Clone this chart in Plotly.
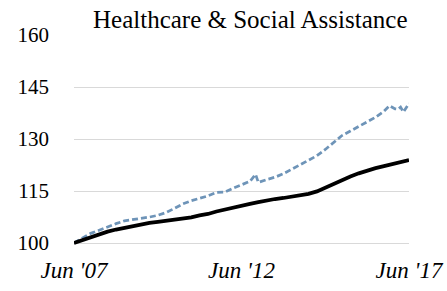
import plotly.graph_objects as go

# Solid black series (quarterly readings)
black_dates = [
    "2007-06-01", "2007-09-01", "2007-12-01", "2008-03-01", "2008-06-01", "2008-09-01", "2008-12-01",
    "2009-03-01", "2009-06-01", "2009-09-01", "2009-12-01", "2010-03-01", "2010-06-01", "2010-09-01",
    "2010-12-01", "2011-03-01", "2011-06-01", "2011-09-01", "2011-12-01", "2012-03-01", "2012-06-01",
    "2012-09-01", "2012-12-01", "2013-03-01", "2013-06-01", "2013-09-01", "2013-12-01", "2014-03-01",
    "2014-06-01", "2014-09-01", "2014-12-01", "2015-03-01", "2015-06-01", "2015-09-01", "2015-12-01",
    "2016-03-01", "2016-06-01", "2016-09-01", "2016-12-01", "2017-03-01", "2017-06-01",
]
black_values = [
    100.0, 100.8, 101.8, 102.6, 103.3, 103.9, 104.4,
    104.9, 105.4, 105.8, 106.1, 106.4, 106.8, 107.1,
    107.4, 108.0, 108.4, 109.1, 109.7, 110.2, 110.8,
    111.3, 111.8, 112.3, 112.7, 113.0, 113.4, 113.7,
    114.2, 114.9, 116.0, 117.2, 118.3, 119.2, 120.1,
    120.9, 121.6, 122.2, 122.8, 123.3, 123.9,
]

# Dashed blue series
blue_dates = [
    "2007-06-01", "2007-09-01", "2007-12-01", "2008-03-01", "2008-06-01", "2008-09-01", "2008-12-01",
    "2009-03-01", "2009-06-01", "2009-09-01", "2009-12-01", "2010-03-01", "2010-06-01", "2010-09-01",
    "2010-12-01", "2011-03-01", "2011-06-01", "2011-09-01", "2011-12-01", "2012-03-01", "2012-06-01",
    "2012-09-01", "2012-11-01", "2012-12-01", "2013-03-01", "2013-06-01", "2013-09-01", "2013-12-01",
    "2014-03-01", "2014-06-01", "2014-09-01", "2014-12-01", "2015-03-01", "2015-06-01", "2015-09-01",
    "2015-12-01", "2016-03-01", "2016-06-01", "2016-09-01", "2016-11-01", "2017-01-01", "2017-02-01",
    "2017-03-01", "2017-04-01", "2017-06-01",
]
blue_values = [
    100.0, 101.4, 102.8, 103.7, 104.7, 105.6, 106.4,
    106.7, 107.0, 107.5, 108.0, 108.8, 110.0, 111.3,
    112.2, 112.8, 113.6, 114.6, 114.7, 115.8, 116.7,
    117.8, 119.8, 117.5, 118.3, 119.0, 120.0, 121.3,
    122.6, 123.8, 125.2, 127.0, 129.0, 131.0, 132.3,
    133.6, 134.8, 136.3, 138.0, 139.6, 138.7, 138.6,
    139.2, 137.8, 140.3,
]

y_ticks = [100, 115, 130, 145, 160]
x_tick_vals = ["2007-06-01", "2012-06-01", "2017-06-01"]
x_tick_text = ["Jun '07", "Jun '12", "Jun '17"]
title_text = "Healthcare & Social Assistance"

SERIF = "Liberation Serif, Times New Roman, DejaVu Serif, serif"

fig = go.Figure()
fig.add_trace(go.Scatter(
    x=blue_dates, y=blue_values, mode="lines",
    line=dict(color="#6e94b8", width=2.75, dash="6px,3px"),
    showlegend=False, hoverinfo="skip", cliponaxis=False,
))
fig.add_trace(go.Scatter(
    x=black_dates, y=black_values, mode="lines",
    line=dict(color="#000000", width=3.75),
    showlegend=False, hoverinfo="skip", cliponaxis=False,
))

fig.update_layout(
    width=447, height=291,
    margin=dict(l=74, r=38, t=34.5, b=41.4, autoexpand=False),
    paper_bgcolor="white", plot_bgcolor="white",
    font=dict(family=SERIF, color="#000000"),
    hovermode=False,
    xaxis=dict(
        type="date",
        range=["2007-06-01", "2017-06-01"],
        tickvals=x_tick_vals, ticktext=x_tick_text,
        showgrid=False, zeroline=False, showline=False,
        tickfont=dict(family=SERIF, size=23, style="italic"),
        ticks="", ticklabelstandoff=4, automargin=False,
    ),
    yaxis=dict(
        range=[98, 160],
        tickvals=y_ticks,
        showgrid=True, gridcolor="#d9d9d9", gridwidth=1,
        zeroline=False, showline=False,
        tickfont=dict(family=SERIF, size=21),
        ticks="", ticklabelstandoff=24, automargin=False,
    ),
    annotations=[dict(
        text=title_text, xref="paper", yref="paper",
        x=1.0, y=1.0, xanchor="right", yanchor="bottom", yshift=0,
        showarrow=False, font=dict(family=SERIF, size=25, color="#000000"),
    )],
)

# remove the default 8px page margin so the figure fills the window exactly
fig.write_html(
    "out.html",
    config={"displayModeBar": False, "staticPlot": True},
    post_script="document.body.style.margin='0';",
)
